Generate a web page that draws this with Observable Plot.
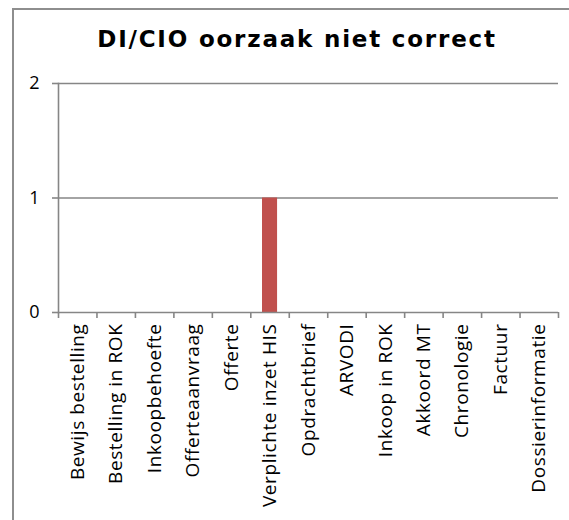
<!DOCTYPE html>
<html>
<head>
<meta charset="utf-8">
<script src="https://cdn.jsdelivr.net/npm/d3@7"></script>
<script src="https://cdn.jsdelivr.net/npm/@observablehq/plot@0.6"></script>
<style>
  html, body { margin: 0; padding: 0; background: #fff; }
  #wrap { position: relative; width: 569px; height: 520px; overflow: hidden; }
  #border { position: absolute; left: 12px; top: 8px; width: 600px; height: 600px;
            border-left: 2px solid #8e8e8e; border-top: 2px solid #8e8e8e; box-sizing: border-box; }
  #title { position: absolute; left: 0; width: 594px; top: 26px; text-align: center;
           font-family: "DejaVu Sans", sans-serif; font-weight: bold; font-size: 23px; letter-spacing: 1.8px; color: #000; }
  #chart { position: absolute; left: 0; top: 0; }
  #chart .xlab text { letter-spacing: 0.6px; }
</style>
</head>
<body>
<div id="wrap">
  <div id="border"></div>
  <div id="title">DI/CIO oorzaak niet correct</div>
  <div id="chart"></div>
</div>
<script>
const categories = ["Bewijs bestelling", "Bestelling in ROK", "Inkoopbehoefte", "Offerteaanvraag", "Offerte",
  "Verplichte inzet HIS", "Opdrachtbrief", "ARVODI", "Inkoop in ROK", "Akkoord MT", "Chronologie", "Factuur", "Dossierinformatie"];
const values = [0, 0, 0, 0, 0, 1, 0, 0, 0, 0, 0, 0, 0];
const yTicks = [0, 1, 2];

const data = categories.map((c, i) => ({category: c, index: i, value: values[i]}));
const boundaries = d3.range(categories.length + 1);

const plot = Plot.plot({
  width: 569,
  height: 520,
  marginLeft: 58,
  marginRight: 11,
  marginTop: 83,
  marginBottom: 208,
  style: {background: "transparent", overflow: "visible", fontFamily: "'Open Sans', sans-serif"},
  x: {type: "linear", domain: [0, categories.length], axis: null},
  y: {type: "linear", domain: [0, 2], axis: null},
  marks: [
    Plot.ruleY(yTicks.filter(v => v > 0), {stroke: "#868686", strokeWidth: 1.6}),
    Plot.rectY(data, {x1: "index", x2: d => d.index + 1, y: "value", fill: "#C0504D", insetLeft: 11.7, insetRight: 11.7}),
    Plot.ruleY([0], {stroke: "#868686", strokeWidth: 1.6}),
    Plot.frame({anchor: "left", stroke: "#868686", strokeWidth: 1.6}),
    Plot.axisY({ticks: yTicks, tickSize: 6, tickFormat: () => "", label: null, stroke: "#868686", strokeWidth: 1.6}),
    Plot.axisX({ticks: boundaries, tickSize: 6, tickFormat: () => "", label: null, stroke: "#868686", strokeWidth: 1.6}),
    Plot.text(yTicks, {frameAnchor: "left", y: d => d, dx: -19, textAnchor: "end", text: d => String(d), fontSize: 18, fill: "#000"}),
    Plot.text(data, {x: d => d.index + 0.5, y: () => 0, dy: 11, rotate: -90, textAnchor: "end", lineAnchor: "middle", text: "category", fontSize: 19, fill: "#000", className: "xlab"})
  ]
});
document.getElementById("chart").appendChild(plot);
</script>
</body>
</html>
